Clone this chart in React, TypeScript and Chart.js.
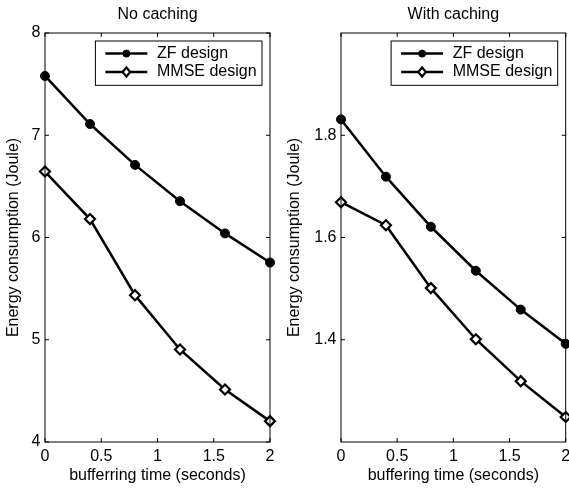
import React, { useEffect, useRef } from 'react';
import { Chart, registerables } from 'chart.js';
Chart.register(...registerables);

const bufferTimes = [0, 0.4, 0.8, 1.2, 1.6, 2];
const noCacheZF = [7.58, 7.11, 6.71, 6.355, 6.04, 5.755];
const noCacheMMSE = [6.645, 6.18, 5.436, 4.905, 4.514, 4.204];
const cacheZF = [1.831, 1.719, 1.621, 1.535, 1.459, 1.392];
const cacheMMSE = [1.669, 1.624, 1.501, 1.401, 1.319, 1.249];
const xTicks = [0, 0.5, 1, 1.5, 2];
const noCacheYTicks = [4, 5, 6, 7, 8];
const cacheYTicks = [1.4, 1.6, 1.8];
const seriesNames = ['ZF design', 'MMSE design'];
const panelTitles = ['No caching', 'With caching'];
const xLabels = ['bufferring time (seconds)', 'buffering time (seconds)'];
const yLabel = 'Energy consumption (Joule)';

const FONT_FAMILY = '"Liberation Sans", Arial, Helvetica, sans-serif';
const FS = 16;

type Panel = {
  title: string;
  xLabel: string;
  zf: number[];
  mmse: number[];
  yMin: number;
  yMax: number;
  yTicks: number[];
  canvasLeft: number;
  canvasWidth: number;
  yAxisWidth: number;
  rightPad: number;
  yTitlePad: number;
};

const panels: Panel[] = [
  {
    title: panelTitles[0], xLabel: xLabels[0], zf: noCacheZF, mmse: noCacheMMSE,
    yMin: 4, yMax: 8, yTicks: noCacheYTicks,
    canvasLeft: 0, canvasWidth: 285, yAxisWidth: 45, rightPad: 15, yTitlePad: 3.5,
  },
  {
    title: panelTitles[1], xLabel: xLabels[1], zf: cacheZF, mmse: cacheMMSE,
    yMin: 1.2, yMax: 2.0, yTicks: cacheYTicks,
    canvasLeft: 284, canvasWidth: 295, yAxisWidth: 57, rightPad: 13.3, yTitlePad: 1,
  },
];

const H = 489;

function makeDecor(title: string) {
  return {
    id: 'matlabDecor',
    afterDraw(chart: any) {
      const { ctx, chartArea } = chart;
      const { left, right, top, bottom } = chartArea;
      const xs = chart.scales.x;
      const ys = chart.scales.y;
      ctx.save();
      ctx.strokeStyle = '#000';
      ctx.lineWidth = 1;
      ctx.strokeRect(left, top, right - left, bottom - top);
      const tl = 4;
      ctx.beginPath();
      xs.ticks.forEach((t: any) => {
        const px = xs.getPixelForValue(t.value);
        ctx.moveTo(px, bottom); ctx.lineTo(px, bottom - tl);
        ctx.moveTo(px, top); ctx.lineTo(px, top + tl);
      });
      ys.ticks.forEach((t: any) => {
        const py = ys.getPixelForValue(t.value);
        ctx.moveTo(left, py); ctx.lineTo(left + tl, py);
        ctx.moveTo(right, py); ctx.lineTo(right - tl, py);
      });
      ctx.stroke();

      // title
      ctx.fillStyle = '#000';
      ctx.font = `${FS}px ${FONT_FAMILY}`;
      ctx.textAlign = 'center';
      ctx.textBaseline = 'middle';
      ctx.fillText(title, (left + right) / 2, 15);

      // legend
      const bw = 166.6, bh = 44.3;
      const bx = right - 8 - bw, by = top + 8;
      ctx.fillStyle = '#fff';
      ctx.fillRect(bx, by, bw, bh);
      ctx.lineWidth = 1;
      ctx.strokeStyle = '#000';
      ctx.strokeRect(bx, by, bw, bh);
      const rows = [by + 12.6, by + 31];
      chart.data.datasets.forEach((ds: any, i: number) => {
        const y = rows[i];
        ctx.strokeStyle = '#000';
        ctx.lineWidth = ds.borderWidth;
        ctx.beginPath();
        ctx.moveTo(bx + 10, y);
        ctx.lineTo(bx + 52, y);
        ctx.stroke();
        const cx = bx + 31;
        ctx.lineWidth = ds.pointBorderWidth;
        ctx.fillStyle = ds.pointBackgroundColor;
        ctx.beginPath();
        if (ds.pointStyle === 'circle') {
          ctx.arc(cx, y, 3.5, 0, Math.PI * 2);
          ctx.fill();
          ctx.stroke();
        } else {
          const r = 4.5;
          ctx.moveTo(cx, y - r); ctx.lineTo(cx + r * 0.85, y); ctx.lineTo(cx, y + r); ctx.lineTo(cx - r * 0.85, y); ctx.closePath();
          ctx.fill();
          ctx.stroke();
        }
        ctx.fillStyle = '#000';
        ctx.font = `${FS}px ${FONT_FAMILY}`;
        ctx.textAlign = 'left';
        ctx.textBaseline = 'middle';
        ctx.fillText(ds.label, bx + 61.6, y);
      });
      ctx.restore();
    },
  };
}

function PanelChart({ p }: { p: Panel }) {
  const ref = useRef<HTMLCanvasElement | null>(null);
  useEffect(() => {
    if (!ref.current) return;
    const font = { family: FONT_FAMILY, size: FS };
    const chart = new Chart(ref.current, {
      type: 'line',
      data: {
        datasets: [
          {
            label: seriesNames[0],
            data: bufferTimes.map((x, i) => ({ x, y: p.zf[i] })),
            borderColor: '#000',
            borderWidth: 2.5,
            pointStyle: 'circle',
            pointRadius: 4.5,
            pointBackgroundColor: '#000',
            pointBorderColor: '#000',
            pointBorderWidth: 1,
            tension: 0,
            clip: false as any,
          },
          {
            label: seriesNames[1],
            data: bufferTimes.map((x, i) => ({ x, y: p.mmse[i] })),
            borderColor: '#000',
            borderWidth: 2.5,
            pointStyle: 'rectRot',
            pointRadius: 5,
            pointBackgroundColor: '#fff',
            pointBorderColor: '#000',
            pointBorderWidth: 2.2,
            tension: 0,
            clip: false as any,
          },
        ],
      },
      options: {
        animation: false,
        responsive: false,
        devicePixelRatio: 1,
        layout: { padding: { left: 0, right: p.rightPad, top: 33, bottom: 0 } },
        plugins: {
          legend: { display: false },
          title: { display: false },
          tooltip: { enabled: false },
        },
        scales: {
          x: {
            type: 'linear',
            min: 0,
            max: 2,
            afterBuildTicks: (s: any) => { s.ticks = xTicks.map((v) => ({ value: v })); },
            afterFit: (s: any) => { s.height = H - 442; },
            grid: { display: false, drawTicks: false },
            border: { display: false },
            ticks: { color: '#000', font, padding: 5, maxRotation: 0, callback: (v: any) => String(v) },
            title: { display: true, text: p.xLabel, color: '#000', font, padding: { top: 0, bottom: 4 } },
          },
          y: {
            type: 'linear',
            min: p.yMin,
            max: p.yMax,
            afterBuildTicks: (s: any) => { s.ticks = p.yTicks.map((v) => ({ value: v })); },
            afterFit: (s: any) => { s.width = p.yAxisWidth; },
            grid: { display: false, drawTicks: false },
            border: { display: false },
            ticks: { color: '#000', font, padding: 4.5, callback: (v: any) => String(v) },
            title: { display: true, text: yLabel, color: '#000', font, padding: { top: p.yTitlePad, bottom: 0 } },
          },
        },
      },
      plugins: [makeDecor(p.title)],
    });
    return () => chart.destroy();
  }, [p]);
  return (
    <canvas
      ref={ref}
      width={p.canvasWidth}
      height={H}
      style={{ position: 'absolute', left: p.canvasLeft, top: 0, width: p.canvasWidth, height: H }}
    />
  );
}

export default function App() {
  return (
    <div style={{ position: 'absolute', left: 0, top: 0, width: 569, height: 489, overflow: 'hidden', background: '#fff' }}>
      {panels.map((p, i) => (
        <PanelChart key={i} p={p} />
      ))}
    </div>
  );
}
